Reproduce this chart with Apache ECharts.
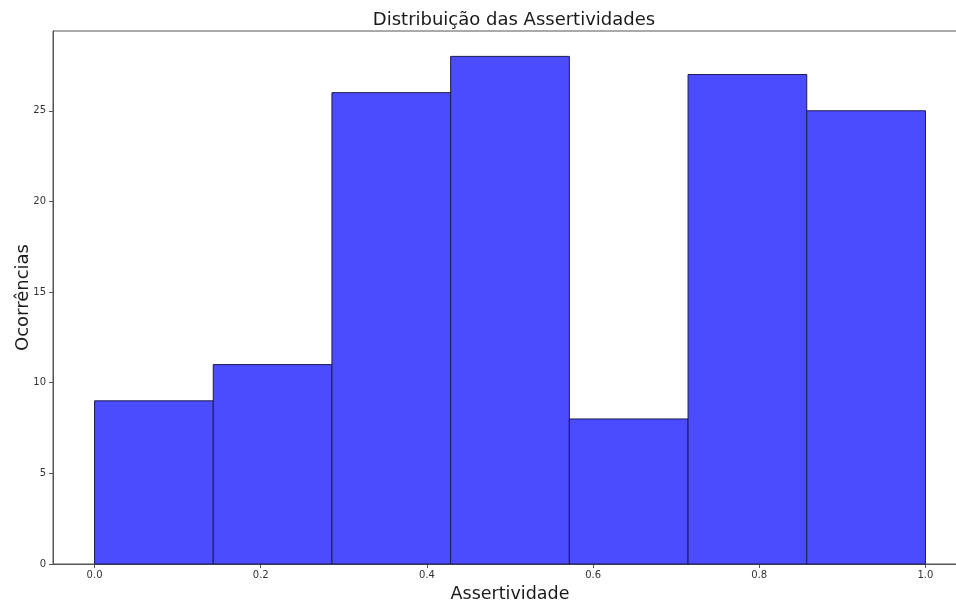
<!DOCTYPE html>
<html>
<head>
<meta charset="utf-8">
<script src="https://cdn.jsdelivr.net/npm/echarts@6/dist/echarts.min.js"></script>
<style>
  html, body { margin: 0; padding: 0; background: #fff; }
  #chart { width: 956px; height: 604px; }
</style>
</head>
<body>
<div id="chart"></div>
<script>
// Histogram bins (edges) and the count in each bin
const binEdges = [0, 0.142857, 0.285714, 0.428571, 0.571429, 0.714286, 0.857143, 1.0];
const counts = [9, 11, 26, 28, 8, 27, 25];
const xTicks = [0, 0.2, 0.4, 0.6, 0.8, 1.0];
const yTicks = [0, 5, 10, 15, 20, 25];

const bins = counts.map((c, i) => [binEdges[i], binEdges[i + 1], c]);

const font = 'DejaVu Sans';
const chart = echarts.init(document.getElementById('chart'), null, { renderer: 'canvas' });

chart.setOption({
  animation: false,
  backgroundColor: '#ffffff',
  title: {
    text: 'Distribuição das Assertividades',
    left: 509,
    top: 6,
    textAlign: 'center',
    textStyle: { fontFamily: font, fontSize: 18, fontWeight: 'normal', color: '#1a1a1a' }
  },
  grid: {
    left: 53, right: -11, top: 31, bottom: 40,
    outerBoundsMode: 'none', containLabel: false,
    show: true, borderColor: '#555', borderWidth: 1
  },
  xAxis: {
    type: 'value',
    min: -0.05,
    max: 1.05,
    name: 'Assertividade',
    nameLocation: 'middle',
    nameGap: 21,
    nameMoveOverlap: false,
    nameTextStyle: { fontFamily: font, fontSize: 17.5, color: '#1a1a1a' },
    splitLine: { show: false },
    axisLine: { show: true, onZero: false, lineStyle: { color: '#555' } },
    axisTick: { show: true, length: 4, customValues: xTicks, lineStyle: { color: '#555' } },
    axisLabel: {
      customValues: xTicks,
      fontFamily: font, fontSize: 10, color: '#333', margin: 6,
      formatter: v => v.toFixed(1)
    }
  },
  yAxis: {
    type: 'value',
    min: 0,
    max: 29.4,
    name: 'Ocorrências',
    nameLocation: 'middle',
    nameGap: 21,
    nameMoveOverlap: false,
    nameTextStyle: { fontFamily: font, fontSize: 18, color: '#1a1a1a' },
    splitLine: { show: false },
    axisLine: { show: true, onZero: false, lineStyle: { color: '#555' } },
    axisTick: { show: true, length: 4, customValues: yTicks, lineStyle: { color: '#555' } },
    axisLabel: {
      customValues: yTicks,
      fontFamily: font, fontSize: 10, color: '#333', margin: 7
    }
  },
  series: [{
    type: 'custom',
    data: bins,
    encode: { x: [0, 1], y: 2 },
    renderItem: function (params, api) {
      const p0 = api.coord([api.value(0), 0]);
      const p1 = api.coord([api.value(1), api.value(2)]);
      return {
        type: 'rect',
        shape: { x: p0[0], y: p1[1], width: p1[0] - p0[0], height: p0[1] - p1[1] },
        style: { fill: '#4b4bff', stroke: '#1c1c50', lineWidth: 1 }
      };
    }
  }]
});
</script>
</body>
</html>
